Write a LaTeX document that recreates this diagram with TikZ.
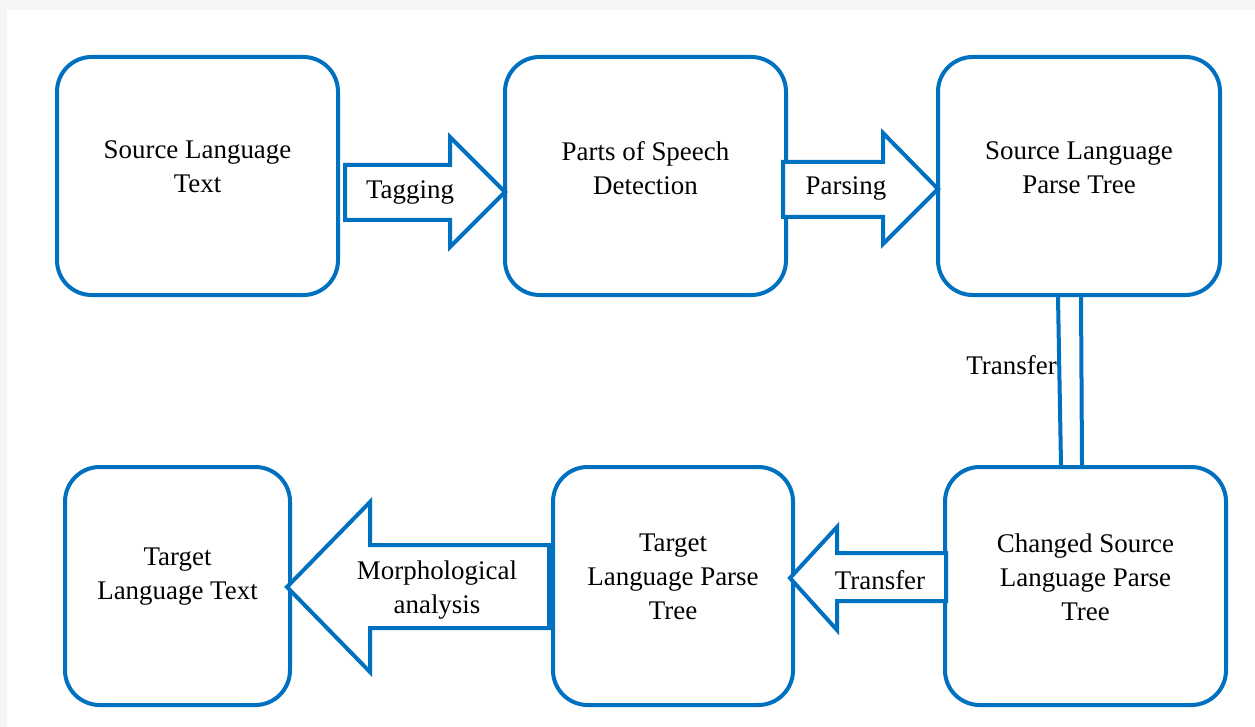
\documentclass[tikz,border=0pt]{standalone}
\usepackage{fontspec}
\setmainfont{Liberation Serif}
\usetikzlibrary{calc}
\definecolor{boxblue}{HTML}{0070C0}
\tikzset{
  stage/.style={draw=boxblue,line width=3pt,rounded corners=26pt,minimum height=0.75*238pt},
  stagetext/.style={align=center,font=\fontsize{20.2}{25.5}\selectfont},
  blockarrow/.style={draw=boxblue,line width=3pt,line join=miter,fill=white},
}
\begin{document}
\begin{tikzpicture}[x=0.75pt,y=-0.75pt]
      \fill[black!4] (0,0) rectangle (1255,727);
      \fill[white] (7,10) rectangle (1255,727);
      \useasboundingbox (0,0) rectangle (1255,727);
      % stages, top row
      \node[stage,minimum width=0.75*281pt] (src) at (197.5,176) {};
      \node[stage,minimum width=0.75*281pt] (pos) at (645.5,176) {};
      \node[stage,minimum width=0.75*282pt] (ps) at (1079,176) {};
      % stages, bottom row
      \node[stage,minimum width=0.75*225pt] (tlt) at (177.5,586) {};
      \node[stage,minimum width=0.75*240pt] (tlp) at (673,586) {};
      \node[stage,minimum width=0.75*281pt] (csp) at (1085.5,586) {};
      \node[stagetext] (srct) at ($(src)+(0,-9)$) {Source Language\\Text};
      \node[stagetext] (post) at ($(pos)+(0,-8)$) {Parts of Speech\\Detection};
      \node[stagetext] (pst) at ($(ps)+(0,-8)$) {Source Language\\Parse Tree};
      \node[stagetext] (tltt) at ($(tlt)+(0,-9)$) {Target\\Language Text};
      \node[stagetext] (tlpt) at ($(tlp)+(0,-9)$) {Target\\Language Parse\\Tree};
      \node[stagetext] (cspt) at ($(csp)+(0,-9)$) {Changed Source\\Language Parse\\Tree};
      % block arrows
      \draw[blockarrow] (345,165) -- (450,165) -- (450,137) -- (505,192)
        -- (450,247) -- (450,220) -- (345,220) -- cycle;
      \node[stagetext] (tag) at (410,192) {Tagging};
      \draw[blockarrow] (783,162) -- (883,162) -- (883,133) -- (938,189)
        -- (883,244) -- (883,217) -- (783,217) -- cycle;
      \node[stagetext] (parse) at (846,188) {Parsing};
      \draw[blockarrow] (946,553) -- (837,553) -- (837,527) -- (790,578)
        -- (837,630) -- (837,601) -- (946,601) -- cycle;
      \node[stagetext] (trans) at (880,580) {Transfer};
      \draw[blockarrow] (549,545) -- (370,545) -- (370,502) -- (287,587)
        -- (370,672) -- (370,628) -- (549,628) -- cycle;
      \node[stagetext] (morph) at (437,590) {Morphological\\analysis};
      % transfer link
      \draw[boxblue,line width=3pt] ($(ps.south)+(-21,0)$) -- ($(csp.north)+(-24.5,0)$);
      \draw[boxblue,line width=3pt] ($(ps.south)+(2,0)$) -- ($(csp.north)+(-3.5,0)$);
      \node[stagetext,anchor=east,inner sep=0pt] (transv) at (1057,365) {Transfer};
    \end{tikzpicture}
\end{document}
